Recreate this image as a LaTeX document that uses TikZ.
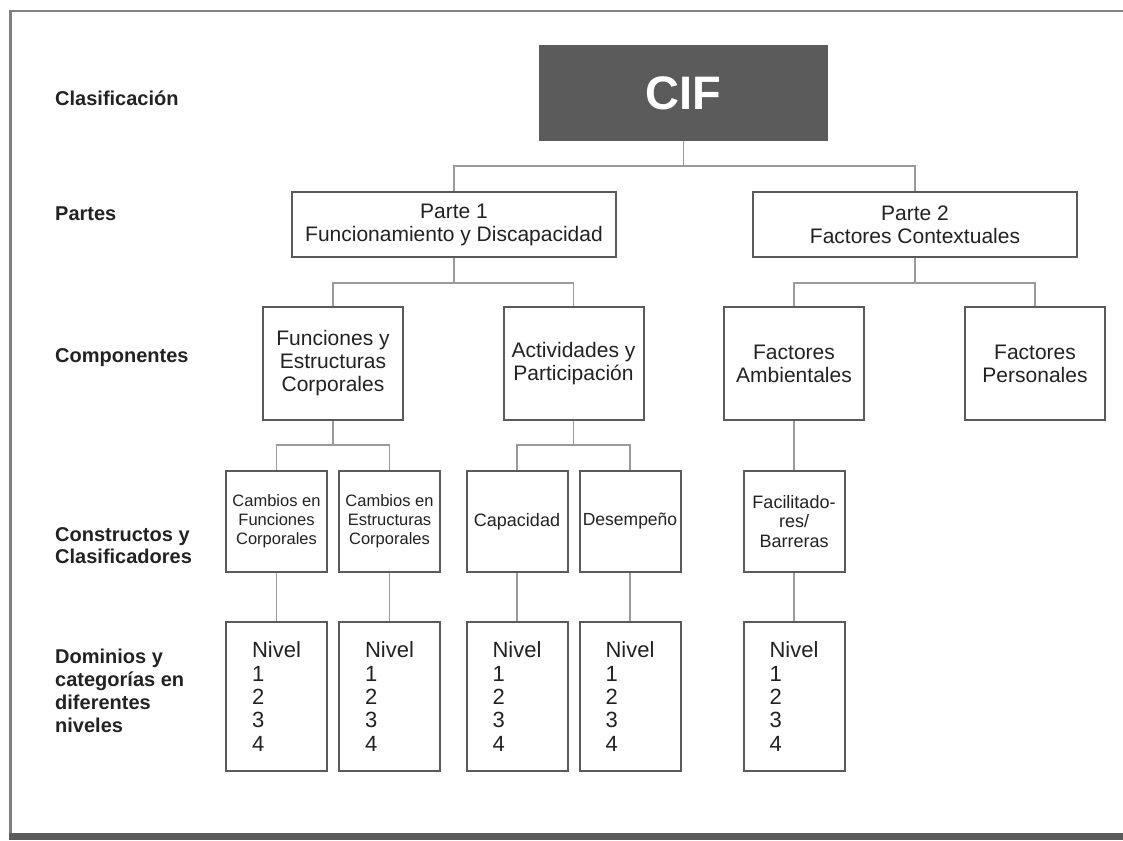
\documentclass[tikz,border=0pt]{standalone}
\usepackage{fontspec}
\setmainfont{Liberation Sans}
\definecolor{boxgray}{HTML}{5A5A5A}
\definecolor{conngray}{HTML}{9A9A9A}
\definecolor{framegray}{HTML}{808080}
\definecolor{cifgray}{HTML}{5B5B5B}
\definecolor{txt}{HTML}{222222}
\begin{document}
\begin{tikzpicture}[x=1pt,y=-1pt,
  box/.style={draw=boxgray, line width=2pt, fill=white, text=txt, align=center, inner sep=0pt},
  mainfnt/.style={font=\fontsize{21}{23}\selectfont},
  smallfnt/.style={font=\fontsize{16.5}{19.2}\selectfont},
  midfnt/.style={font=\fontsize{18}{19.2}\selectfont},
  nivfnt/.style={font=\fontsize{22}{23.3}\selectfont},
  partbox/.style={box, mainfnt, minimum width=324pt, minimum height=65pt},
  compbox/.style={box, mainfnt, minimum width=140pt, minimum height=113pt},
  consbox/.style={box, minimum width=101pt, minimum height=101pt},
  nivbox/.style={box, nivfnt, align=left, minimum width=101pt, minimum height=149pt},
  lbl/.style={font=\fontsize{20}{22}\selectfont\bfseries, text=txt, align=left, inner sep=0pt},
  conn/.style={draw=conngray, line width=1.5pt}]
\useasboundingbox (0,0) rectangle (1123,840);
% frame
\draw[framegray, line width=2.5pt] (10.5,833) -- (10.5,11) -- (1123,11);
\fill[cifgray] (9.25,833) rectangle (1123,840);

% left labels
\node[lbl, anchor=base west] (lclas) at (55,106) {Clasificación};
\node[lbl, anchor=base west] (lpart) at (55,220) {Partes};
\node[lbl, anchor=base west] (lcomp) at (55,362) {Componentes};
\node[lbl, anchor=north west] (lcons) at (55,527) {Constructos y\\Clasificadores};
\node[lbl, anchor=north west, font=\fontsize{20}{23}\selectfont\bfseries] (ldom) at (55,649) {Dominios y\\categorías en\\diferentes\\niveles};

% CIF
\node[fill=cifgray, text=white, font=\fontsize{47}{50}\selectfont\bfseries, minimum width=289pt, minimum height=96pt, inner sep=0pt] (cif) at (683.5,93) {CIF};

% parts
\node[partbox] (p1) at (454,224.5) {Parte 1\\Funcionamiento y Discapacidad};
\node[partbox] (p2) at (915,224.5) {Parte 2\\Factores Contextuales};

% components
\node[compbox] (fec) at (333,363.5) {Funciones y\\Estructuras\\Corporales};
\node[compbox] (ap) at (573.5,363.5) {Actividades y\\Participación};
\node[compbox] (fa) at (794,363.5) {Factores\\Ambientales};
\node[compbox] (fp) at (1035,363.5) {Factores\\Personales};

% constructs
\node[consbox, smallfnt] (cf) at (276.5,521.5) {Cambios en\\Funciones\\Corporales};
\node[consbox, smallfnt] (ce) at (389.5,521.5) {Cambios en\\Estructuras\\Corporales};
\node[consbox, midfnt] (cap) at (517,521.5) {Capacidad};
\node[consbox, font=\fontsize{17.5}{19.2}\selectfont] (des) at (630,521.5) {Desempeño};
\node[consbox, midfnt] (fb) at (794,521.5) {Facilitado-\\res/\\Barreras};

% levels
\node[nivbox] (n1) at (276.5,696.5) {Nivel\\1\\2\\3\\4};
\node[nivbox] (n2) at (389.5,696.5) {Nivel\\1\\2\\3\\4};
\node[nivbox] (n3) at (517,696.5) {Nivel\\1\\2\\3\\4};
\node[nivbox] (n4) at (630,696.5) {Nivel\\1\\2\\3\\4};
\node[nivbox] (n5) at (794,696.5) {Nivel\\1\\2\\3\\4};

% connectors
\draw[conn] (cif.south) -- ++(0,25) -| (p1.north);
\draw[conn] (cif.south) -- ++(0,25) -| (p2.north);
\draw[conn] (p1.south) -- ++(0,25) -| (fec.north);
\draw[conn] (p1.south) -- ++(0,25) -| (ap.north);
\draw[conn] (p2.south) -- ++(0,25) -| (fa.north);
\draw[conn] (p2.south) -- ++(0,25) -| (fp.north);
\draw[conn] (fec.south) -- ++(0,24) -| (cf.north);
\draw[conn] (fec.south) -- ++(0,24) -| (ce.north);
\draw[conn] (ap.south) -- ++(0,24) -| (cap.north);
\draw[conn] (ap.south) -- ++(0,24) -| (des.north);
\draw[conn] (fa.south) -- (fb.north);
\draw[conn] (cf.south) -- (n1.north);
\draw[conn] (ce.south) -- (n2.north);
\draw[conn] (cap.south) -- (n3.north);
\draw[conn] (des.south) -- (n4.north);
\draw[conn] (fb.south) -- (n5.north);
\end{tikzpicture}
\end{document}
